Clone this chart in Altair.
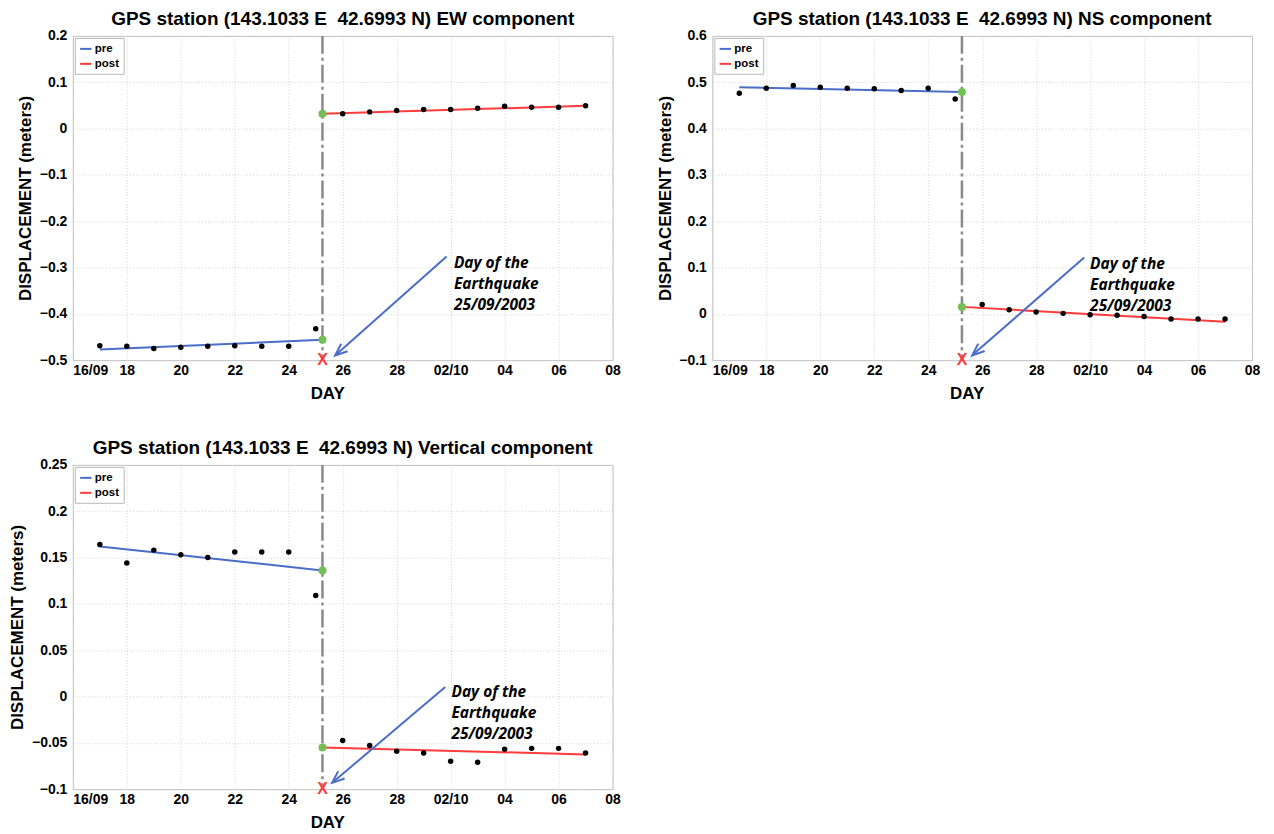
import altair as alt
import pandas as pd

# ---------------- shared x axis (days counted from 16/09/2003) ----------------
TICK_VALUES = [0, 2, 4, 6, 8, 10, 12, 14, 16, 18, 20]
TICK_LABELS = ["16/09", "18", "20", "22", "24", "26", "28", "02/10", "04", "06", "08"]
PRE_DAYS = [1, 2, 3, 4, 5, 6, 7, 8, 9]
POST_DAYS = [10, 11, 12, 13, 14, 15, 16, 17, 18, 19]
QUAKE_DAY = 9.25
FIT_PRE_DAYS = [1, 9.25]
FIT_POST_DAYS = [9.25, 19]
SERIES = ["pre", "post"]
NOTE = "Day of the\nEarthquake\n25/09/2003"

# ---------------- EW component ----------------
EW_TITLE = "GPS station (143.1033 E \u00a042.6993 N) EW component"
EW_PRE = [-0.469, -0.470, -0.475, -0.472, -0.470, -0.469, -0.470, -0.470, -0.432]
EW_POST = [0.032, 0.036, 0.039, 0.041, 0.041, 0.044, 0.048, 0.046, 0.046, 0.049]
EW_PRE_FIT = [-0.477, -0.456]
EW_POST_FIT = [0.032, 0.049]
EW_Y_DOMAIN = [-0.5, 0.2]
EW_Y_TICKS = [-0.5, -0.4, -0.3, -0.2, -0.1, 0, 0.1, 0.2]
EW_ARROW_FROM = [13.85, -0.276]
EW_ARROW_TO = [9.72, -0.490]
EW_NOTE_AT = [14.12, -0.291]

# ---------------- NS component ----------------
NS_TITLE = "GPS station (143.1033 E \u00a042.6993 N) NS component"
NS_PRE = [0.476, 0.487, 0.493, 0.489, 0.487, 0.486, 0.482, 0.487, 0.464]
NS_POST = [0.020, 0.009, 0.004, 0.001, -0.002, -0.003, -0.006, -0.011, -0.011, -0.011]
NS_PRE_FIT = [0.489, 0.479]
NS_POST_FIT = [0.015, -0.017]
NS_Y_DOMAIN = [-0.1, 0.6]
NS_Y_TICKS = [-0.1, 0, 0.1, 0.2, 0.3, 0.4, 0.5, 0.6]
NS_ARROW_FROM = [13.78, 0.1216]
NS_ARROW_TO = [9.63, -0.0897]
NS_NOTE_AT = [14.0, 0.1065]

# ---------------- Vertical component ----------------
UD_TITLE = "GPS station (143.1033 E \u00a042.6993 N) Vertical component"
UD_PRE = [0.164, 0.144, 0.158, 0.153, 0.150, 0.156, 0.156, 0.156, 0.109]
UD_POST = [-0.0475, -0.053, -0.059, -0.061, -0.070, -0.071, -0.057, -0.056, -0.056, -0.061]
UD_PRE_FIT = [0.162, 0.136]
UD_POST_FIT = [-0.055, -0.0625]
UD_Y_DOMAIN = [-0.1, 0.25]
UD_Y_TICKS = [-0.1, -0.05, 0, 0.05, 0.1, 0.15, 0.2, 0.25]
UD_ARROW_FROM = [13.8, 0.0102]
UD_ARROW_TO = [9.61, -0.0932]
UD_NOTE_AT = [14.03, 0.0045]

# ---------------- styles ----------------
BLUE = "#4a6dc8"
RED = "#ff3b3b"
GREEN = "#72c054"
GRAY = "#8a8a8a"
FONT = "Liberation Sans"
NOTE_FONT = "Open Sans"
W, H = 541, 325

label_js = "[" + ",".join("'%s'" % t for t in TICK_LABELS) + "]"


def panel(title, pre, post, pre_fit, post_fit, y_domain, y_ticks,
          arrow_from, arrow_to, note_at, y_extent):
    x_enc = alt.X(
        "day:Q",
        scale=alt.Scale(domain=[0, 20], nice=False, zero=False),
        axis=alt.Axis(
            values=TICK_VALUES,
            labelExpr=label_js + "[round(datum.value / 2)]",
            labelAlign={"condition": {"test": "datum.value == 0", "value": "left"},
                        "value": "center"},
            title="DAY",
            titleX=255,
        ),
    )
    y_enc = alt.Y(
        "value:Q",
        scale=alt.Scale(domain=y_domain, nice=False, zero=False),
        axis=alt.Axis(
            values=y_ticks,
            labelExpr="format(datum.value, '~g')",
            title="DISPLACEMENT (meters)",
            minExtent=y_extent,
            maxExtent=y_extent,
        ),
    )

    fit_df = pd.DataFrame({
        "day": FIT_PRE_DAYS + FIT_POST_DAYS,
        "value": pre_fit + post_fit,
        "series": [SERIES[0]] * 2 + [SERIES[1]] * 2,
    })
    obs_df = pd.DataFrame({"day": PRE_DAYS + POST_DAYS, "value": pre + post})
    green_df = pd.DataFrame({"day": [QUAKE_DAY, QUAKE_DAY],
                             "value": [pre_fit[1], post_fit[0]]})
    quake_df = pd.DataFrame({"day": [QUAKE_DAY], "value": [y_domain[0]]})
    arrow_df = pd.DataFrame({"day": [arrow_from[0]], "value": [arrow_from[1]],
                             "day2": [arrow_to[0]], "value2": [arrow_to[1]]})
    head_df = pd.DataFrame({"day": [arrow_to[0]], "value": [arrow_to[1]]})
    note_df = pd.DataFrame({"day": [note_at[0]], "value": [note_at[1]], "label": [NOTE]})

    rule = alt.Chart(quake_df).mark_rule(
        color=GRAY, strokeWidth=2.5, strokeDash=[18, 4, 3, 4]
    ).encode(x=x_enc)

    lines = alt.Chart(fit_df).mark_line(strokeWidth=2).encode(
        x=x_enc, y=y_enc,
        color=alt.Color(
            "series:N",
            scale=alt.Scale(domain=SERIES, range=[BLUE, RED]),
            legend=alt.Legend(
                title=None, orient="top-left", offset=2, padding=4,
                strokeColor="#b8b8b8", fillColor="white",
                labelFont=FONT, labelFontSize=11.5, labelFontWeight="bold",
                labelColor="black", symbolType="stroke", symbolStrokeWidth=2,
                symbolSize=130, rowPadding=2, labelOffset=2,
            ),
        ),
        detail="series:N",
    )

    arrow = alt.Chart(arrow_df).mark_rule(color=BLUE, strokeWidth=2).encode(
        x=x_enc, y=y_enc, x2="day2:Q", y2="value2:Q"
    )
    head = alt.Chart(head_df).mark_point(
        shape="M -0.4 1 L 0 0 L 0.4 1", angle=229, size=600, filled=False,
        color=BLUE, strokeWidth=2, opacity=1
    ).encode(x=x_enc, y=y_enc)

    pts = alt.Chart(obs_df).mark_circle(size=30, color="black", opacity=1).encode(
        x=x_enc, y=y_enc)
    green = alt.Chart(green_df).mark_circle(size=64, color=GREEN, opacity=1).encode(
        x=x_enc, y=y_enc)
    xmark = alt.Chart(quake_df).mark_text(
        text="X", color=RED, fontSize=16, fontWeight="bold", font=FONT,
        baseline="middle", align="center"
    ).encode(x=x_enc, y=y_enc)
    note = alt.Chart(note_df).mark_text(
        align="left", baseline="middle", lineBreak="\n", font=NOTE_FONT,
        fontStyle="italic", fontWeight="bold", fontSize=15.5, lineHeight=21,
        color="black"
    ).encode(x=x_enc, y=y_enc, text="label:N")

    return alt.layer(rule, lines, arrow, head, pts, green, xmark, note).properties(
        width=W, height=H,
        title=alt.TitleParams(text=title, font=FONT, fontSize=19,
                              fontWeight="bold", color="black", offset=0),
    )


p1 = panel(EW_TITLE, EW_PRE, EW_POST, EW_PRE_FIT, EW_POST_FIT, EW_Y_DOMAIN,
           EW_Y_TICKS, EW_ARROW_FROM, EW_ARROW_TO, EW_NOTE_AT, 34)
p2 = panel(NS_TITLE, NS_PRE, NS_POST, NS_PRE_FIT, NS_POST_FIT, NS_Y_DOMAIN,
           NS_Y_TICKS, NS_ARROW_FROM, NS_ARROW_TO, NS_NOTE_AT, 34)
p3 = panel(UD_TITLE, UD_PRE, UD_POST, UD_PRE_FIT, UD_POST_FIT, UD_Y_DOMAIN,
           UD_Y_TICKS, UD_ARROW_FROM, UD_ARROW_TO, UD_NOTE_AT, 42)

top = alt.hconcat(p1, p2, spacing=34).resolve_scale(color="independent").resolve_legend(
    color="independent")
chart = alt.vconcat(top, p3, spacing=36).resolve_scale(color="independent").resolve_legend(
    color="independent")

chart = chart.properties(
    padding={"left": 0, "top": 0, "right": 5, "bottom": 0}
).configure_view(
    stroke="#bdbdbd", strokeWidth=1
).configure_axis(
    grid=True, gridColor="#d2d2d2", gridDash=[1, 2], gridWidth=1,
    domain=False, ticks=False,
    labelFont=FONT, labelFontSize=14, labelFontWeight="bold", labelColor="black",
    titleFont=FONT, titleFontSize=17, titleFontWeight="bold", titleColor="black",
).configure_axisX(
    labelPadding=3, titlePadding=8
).configure_axisY(
    labelPadding=6, titlePadding=4
)

chart.save("out.html", embed_options={"renderer": "svg", "actions": False})
